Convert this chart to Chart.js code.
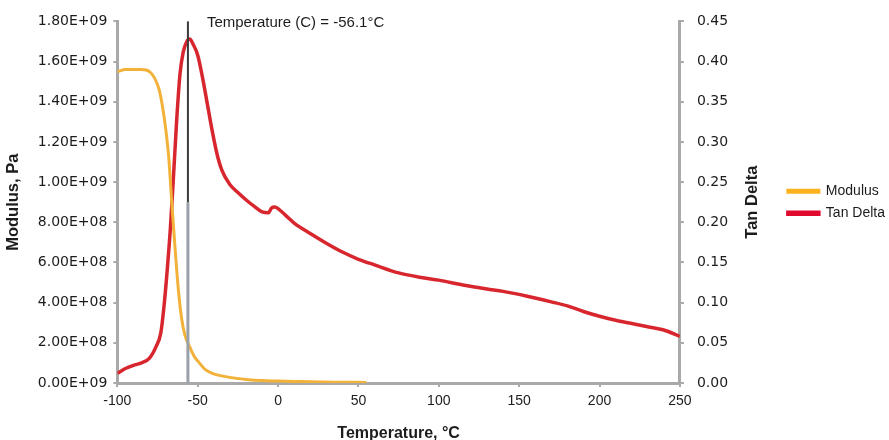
<!DOCTYPE html>
<html>
<head>
<meta charset="utf-8">
<script src="https://cdn.jsdelivr.net/npm/chart.js@4.4.1/dist/chart.umd.min.js"></script>
<style>
  html, body { margin: 0; padding: 0; background: #fff; }
  #wrap { width: 889px; height: 440px; }
</style>
</head>
<body>
<div id="wrap"><canvas id="myChart" width="889" height="440"></canvas></div>
<script>
  // temperature (C) / storage modulus (Pa)
  const modulusTemps = [-100, -95, -90, -85, -80, -77, -74, -72, -70, -68, -66, -64, -62, -60, -58, -55, -52, -50, -45, -40, -30, -20, -10, 0, 10, 20, 35, 55];
  const modulusValues = [1.55e9, 1.56e9, 1.56e9, 1.56e9, 1.55e9, 1.52e9, 1.46e9, 1.38e9, 1.27e9, 1.12e9, 0.88e9, 0.66e9, 0.46e9, 0.32e9, 0.24e9, 0.18e9, 0.13e9, 0.11e9, 0.065e9, 0.045e9, 0.028e9, 0.018e9, 0.012e9, 0.01e9, 0.008e9, 0.006e9, 0.004e9, 0.003e9];

  // temperature (C) / tan delta
  const tanTemps = [-100, -95, -90, -85, -80, -76, -73, -71, -69, -67, -65, -63, -61, -59, -57, -55, -53, -50, -47, -44, -41, -38, -35, -30, -25, -20, -15, -10, -6, -4, -2, 0, 5, 10, 20, 30, 40, 50, 60, 75, 90, 100, 115, 130, 140, 155, 170, 180, 190, 200, 210, 220, 230, 240, 250];
  const tanValues = [0.012, 0.018, 0.022, 0.025, 0.031, 0.045, 0.062, 0.095, 0.14, 0.193, 0.26, 0.33, 0.385, 0.412, 0.424, 0.428, 0.422, 0.408, 0.38, 0.347, 0.314, 0.285, 0.265, 0.247, 0.237, 0.228, 0.22, 0.213, 0.212, 0.218, 0.219, 0.217, 0.208, 0.199, 0.186, 0.174, 0.163, 0.154, 0.147, 0.137, 0.131, 0.128, 0.122, 0.117, 0.114, 0.108, 0.101, 0.096, 0.089, 0.083, 0.078, 0.074, 0.07, 0.066, 0.058];

  const xTicks = [-100, -50, 0, 50, 100, 150, 200, 250];
  const modulusTicks = [0, 2e8, 4e8, 6e8, 8e8, 1e9, 1.2e9, 1.4e9, 1.6e9, 1.8e9];
  const modulusTickLabels = ['0.00E+09', '2.00E+08', '4.00E+08', '6.00E+08', '8.00E+08', '1.00E+09', '1.20E+09', '1.40E+09', '1.60E+09', '1.80E+09'];
  const tanTicks = [0, 0.05, 0.1, 0.15, 0.2, 0.25, 0.3, 0.35, 0.4, 0.45];

  const peakTemp = -56.1;
  const peakLabel = 'Temperature (C) = -56.1°C';
  const tanTitle = 'Tan Delta';

  const toPoints = function(xs, ys){
    return xs.map(function(x, i){ return { x: x, y: ys[i] }; });
  };

  const axisGrey = '#a9a9a9';
  const textColor = '#1c1c1c';
  const legendColors = ['#fbb21d', '#e10a2e'];
  const titleFont = { family: '"Liberation Sans", Arial, sans-serif', size: 16.5, weight: 'bold' };

  const peakLine = {
    id: 'peakLine',
    afterDatasetsDraw: function(chart){
      const ctx = chart.ctx;
      const area = chart.chartArea;
      const x = chart.scales.x.getPixelForValue(peakTemp);
      const splitY = chart.scales.yMod.getPixelForValue(0.9e9);
      ctx.save();
      ctx.lineWidth = 3;
      ctx.strokeStyle = '#9aa1aa';
      ctx.beginPath();
      ctx.moveTo(x, splitY);
      ctx.lineTo(x, area.bottom);
      ctx.stroke();
      ctx.lineWidth = 2;
      ctx.strokeStyle = '#3a3a3a';
      ctx.beginPath();
      ctx.moveTo(x, area.top);
      ctx.lineTo(x, splitY);
      ctx.stroke();
      ctx.fillStyle = textColor;
      ctx.font = '15px "Liberation Sans", Arial, sans-serif';
      ctx.textBaseline = 'middle';
      ctx.fillText(peakLabel, x + 19, area.top + 1);
      ctx.restore();
    }
  };

  // right axis title reads bottom-to-top like the left one
  const tanTitleDraw = {
    id: 'tanTitleDraw',
    afterDraw: function(chart){
      const scale = chart.scales.yTan;
      const ctx = chart.ctx;
      const x = scale.left + 73;
      const y = (scale.top + scale.bottom) / 2;
      ctx.save();
      ctx.translate(x, y);
      ctx.rotate(-Math.PI / 2);
      ctx.fillStyle = textColor;
      ctx.font = 'bold ' + titleFont.size + 'px ' + titleFont.family;
      ctx.textAlign = 'center';
      ctx.textBaseline = 'middle';
      ctx.fillText(tanTitle, 0, 0);
      ctx.restore();
    }
  };

  Chart.defaults.font.family = '"Liberation Sans", Arial, sans-serif';
  Chart.defaults.color = textColor;

  const ctx = document.getElementById('myChart').getContext('2d');
  // eslint-disable-next-line no-unused-vars
  const myChart = new Chart(ctx, {
    type: 'line',
    data: {
      datasets: [
        {
          label: 'Modulus',
          data: toPoints(modulusTemps, modulusValues),
          yAxisID: 'yMod',
          borderColor: '#f2b23a',
          backgroundColor: '#f2b23a',
          borderWidth: 3,
          pointRadius: 0,
          cubicInterpolationMode: 'monotone',
        },
        {
          label: 'Tan Delta',
          data: toPoints(tanTemps, tanValues),
          yAxisID: 'yTan',
          borderColor: '#d8262e',
          backgroundColor: '#d8262e',
          borderWidth: 3.5,
          pointRadius: 0,
          cubicInterpolationMode: 'monotone',
        }
      ]
    },
    options: {
      responsive: false,
      animation: false,
      layout: {
        padding: { left: 4, top: 18, right: -6, bottom: -3 },
      },
      scales: {
        x: {
          type: 'linear',
          min: -100,
          max: 250,
          afterBuildTicks: function(scale){
            scale.ticks = xTicks.map(function(v){ return { value: v }; });
          },
          border: { color: axisGrey, width: 3 },
          grid: { drawOnChartArea: false, color: axisGrey, lineWidth: 2, tickLength: 4 },
          ticks: { font: { size: 14 }, color: textColor, padding: 6, maxRotation: 0 },
          title: {
            display: true,
            text: 'Temperature, °C',
            font: { size: 16, weight: 'bold' },
            color: textColor,
            padding: { top: 8, bottom: 0 },
          },
        },
        yMod: {
          position: 'left',
          min: 0,
          max: 1.8e9,
          afterBuildTicks: function(scale){
            scale.ticks = modulusTicks.map(function(v){ return { value: v }; });
          },
          border: { color: axisGrey, width: 3 },
          grid: { drawOnChartArea: false, color: axisGrey, lineWidth: 2, tickLength: 4 },
          ticks: {
            font: { family: '"DejaVu Sans", sans-serif', size: 14 },
            color: textColor,
            padding: 6,
            callback: function(value, index){ return modulusTickLabels[index]; },
          },
          title: {
            display: true,
            text: 'Modulus, Pa',
            font: titleFont,
            color: textColor,
            padding: { top: 0, bottom: 8 },
          },
        },
        yTan: {
          position: 'right',
          min: 0,
          max: 0.45,
          afterBuildTicks: function(scale){
            scale.ticks = tanTicks.map(function(v){ return { value: v }; });
          },
          border: { color: axisGrey, width: 3 },
          grid: { drawOnChartArea: false, color: axisGrey, lineWidth: 2, tickLength: 4 },
          ticks: {
            font: { family: '"DejaVu Sans", sans-serif', size: 14 },
            color: textColor,
            padding: 13,
            callback: function(value){ return value.toFixed(2); },
          },
          title: {
            display: true,
            text: tanTitle,
            font: titleFont,
            color: 'rgba(0,0,0,0)',
            padding: { top: 12, bottom: 7 },
          },
        },
      },
      plugins: {
        legend: {
          display: true,
          position: 'right',
          fullSize: false,
          labels: {
            boxWidth: 31,
            boxHeight: 2,
            padding: 8,
            color: textColor,
            font: { size: 14 },
            generateLabels: function(chart){
              const items = Chart.defaults.plugins.legend.labels.generateLabels(chart);
              items.forEach(function(item, i){
                item.fillStyle = legendColors[i];
                item.strokeStyle = legendColors[i];
              });
              return items;
            },
          },
        },
        tooltip: { enabled: false },
      },
    },
    plugins: [peakLine, tanTitleDraw],
  });
</script>
</body>
</html>
